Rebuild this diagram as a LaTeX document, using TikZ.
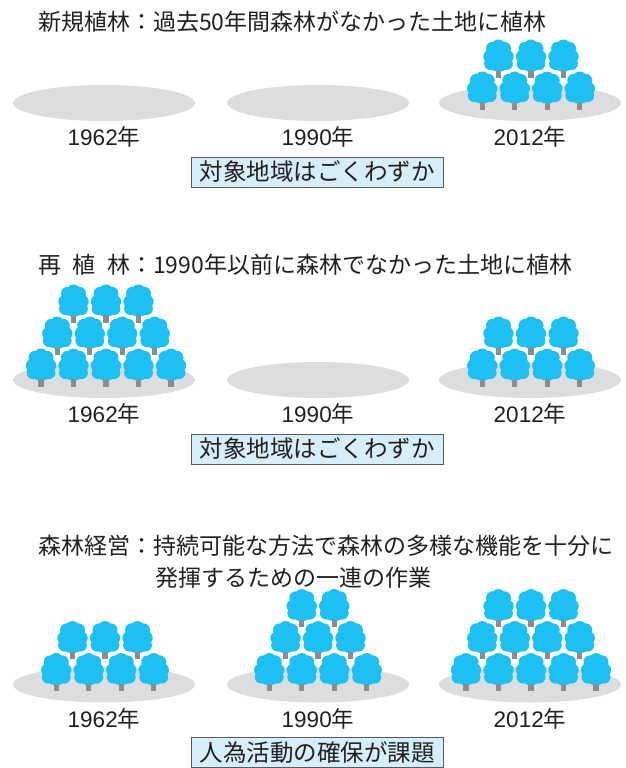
\documentclass[tikz,border=0pt]{standalone}
\usepackage{fontspec}
\setmainfont{Noto Sans CJK JP}
\newfontfamily\yearfont{Liberation Sans}
\definecolor{crowncol}{HTML}{1CC0F2}
\definecolor{trunkcol}{HTML}{8C8C8C}
\definecolor{groundcol}{HTML}{DCDDDE}
\definecolor{boxfill}{HTML}{D6EEF9}
\definecolor{boxline}{HTML}{5A5A5A}
\definecolor{inkcol}{HTML}{231F20}

% one tree: trunk plus a lobed, cloud-shaped crown, anchored at the trunk foot
\tikzset{
  tree/.pic={
    \fill[trunkcol] (-2.7,-10) rectangle (2.7,0);
    \fill[crowncol]
      (0,-31) circle[radius=7]
      (-5.8,-29) circle[radius=6.7] (5.8,-29) circle[radius=6.7]
      (-8.6,-21) circle[radius=6.6] (8.6,-21) circle[radius=6.6]
      (-8,-13.8) circle[radius=6.4] (8,-13.8) circle[radius=6.4]
      (-3.2,-11.2) circle[radius=5] (3.2,-11.2) circle[radius=5]
      (0,-21) circle[radius=10.5];
  },
  ground/.style={fill=groundcol, x radius=91, y radius=18},
  headline/.style={anchor=base west, inner sep=0, text=inkcol,
    font=\fontsize{23}{27}\selectfont},
  yearlabel/.style={anchor=base, inner sep=0, text=inkcol,
    font=\fontsize{22.5}{26}\selectfont},
  notebox/.style={draw=boxline, fill=boxfill, line width=0.9pt,
    minimum width=252pt, minimum height=30pt, inner sep=0, text=inkcol,
    font=\fontsize{23.5}{26}\selectfont},
}

% a horizontal row of n trees centred on x
\newcommand\treerow[3]{%
  \foreach \k in {1,...,#3}{\pic at ({#1+(\k-(#3+1)/2)*32.5},#2) {tree};}}

\begin{document}
\begin{tikzpicture}[x=1pt,y=-1pt]
\useasboundingbox (0,0) rectangle (625,768);
\clip (0,0) rectangle (625,768);

% ---------- new planting ----------
\node[headline] (h1) at (38,31) {新規植林：過去50年間森林がなかった土地に植林};
\fill[ground] (104,103) ellipse[];
\fill[ground] (318,103) ellipse[];
\fill[ground] (530,103) ellipse[];
\treerow{531}{77.5}{3}
\treerow{531}{109.5}{4}
\node[yearlabel] (a1) at (104,145) {{\yearfont 1962}年};
\node[yearlabel] (a2) at (318,145) {{\yearfont 1990}年};
\node[yearlabel] (a3) at (530,145) {{\yearfont 2012}年};
\node[notebox] (n1) at (317,172) {対象地域はごくわずか};

% ---------- replanting ----------
\node[headline] (h2) at (38,273) {再\hspace{0.5em}植\hspace{0.5em}林：1990年以前に森林でなかった土地に植林};
\fill[ground] (104,380) ellipse[];
\fill[ground] (318,380) ellipse[];
\fill[ground] (530,380) ellipse[];
\treerow{106}{322.5}{3}
\treerow{106}{354.5}{4}
\treerow{106}{386.5}{5}
\treerow{531}{354.5}{3}
\treerow{531}{386.5}{4}
\node[yearlabel] (b1) at (104,422) {{\yearfont 1962}年};
\node[yearlabel] (b2) at (318,422) {{\yearfont 1990}年};
\node[yearlabel] (b3) at (530,422) {{\yearfont 2012}年};
\node[notebox] (n2) at (317,449) {対象地域はごくわずか};

% ---------- forest management ----------
\node[headline] (h3) at (38,554.5) {森林経営：持続可能な方法で森林の多様な機能を十分に};
\node[headline] (h3b) at (155,586.5) {発揮するための一連の作業};
\fill[ground] (104,684.5) ellipse[];
\fill[ground] (318,684.5) ellipse[];
\fill[ground] (530,684.5) ellipse[];
\treerow{105}{659}{3}
\treerow{105}{691}{4}
\treerow{318}{627}{2}
\treerow{318}{659}{3}
\treerow{318}{691}{4}
\treerow{531}{627}{3}
\treerow{531}{659}{4}
\treerow{531}{691}{5}
\node[yearlabel] (c1) at (104,727.5) {{\yearfont 1962}年};
\node[yearlabel] (c2) at (318,727.5) {{\yearfont 1990}年};
\node[yearlabel] (c3) at (530,727.5) {{\yearfont 2012}年};
\node[notebox, anchor=north] (n3) at (317,737) {人為活動の確保が課題};
\end{tikzpicture}
\end{document}
